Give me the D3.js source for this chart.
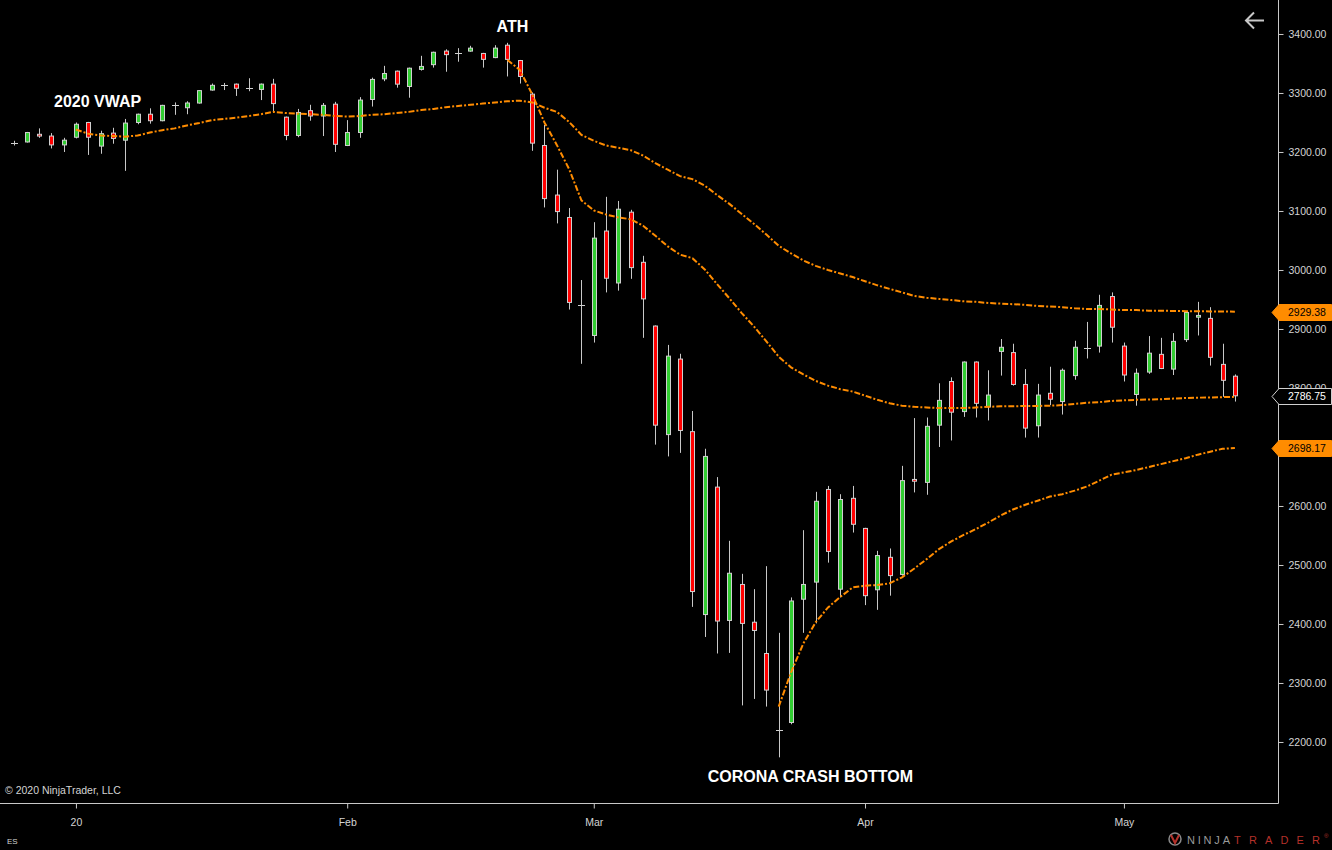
<!DOCTYPE html>
<html>
<head>
<meta charset="utf-8">
<script src="https://cdn.jsdelivr.net/npm/d3@7"></script>
<style>
  body { margin: 0; background: #000; }
  svg { display: block; font-family: 'Liberation Sans', Arial, sans-serif; }
  .axis text { fill: #d4d4d4; font-size: 10.5px; font-family: 'Liberation Sans', Arial, sans-serif; }
  .axis line { stroke: #c8c8c8; }
  .note { fill: #fff; font-weight: bold; font-size: 16px; }
</style>
</head>
<body>
<svg id="chart"></svg>
<script>
// Daily ES bars, late Dec 2019 to mid May 2020
const dates = [
  '2019-12-24','2019-12-26','2019-12-27','2019-12-30','2019-12-31',
  '2020-01-02','2020-01-03','2020-01-06','2020-01-07','2020-01-08','2020-01-09','2020-01-10',
  '2020-01-13','2020-01-14','2020-01-15','2020-01-16','2020-01-17','2020-01-20','2020-01-21',
  '2020-01-22','2020-01-23','2020-01-24','2020-01-27','2020-01-28','2020-01-29','2020-01-30','2020-01-31',
  '2020-02-03','2020-02-04','2020-02-05','2020-02-06','2020-02-07','2020-02-10','2020-02-11',
  '2020-02-12','2020-02-13','2020-02-14','2020-02-17','2020-02-18','2020-02-19','2020-02-20',
  '2020-02-21','2020-02-24','2020-02-25','2020-02-26','2020-02-27','2020-02-28',
  '2020-03-02','2020-03-03','2020-03-04','2020-03-05','2020-03-06','2020-03-09','2020-03-10',
  '2020-03-11','2020-03-12','2020-03-13','2020-03-16','2020-03-17','2020-03-18','2020-03-19',
  '2020-03-20','2020-03-23','2020-03-24','2020-03-25','2020-03-26','2020-03-27','2020-03-30','2020-03-31',
  '2020-04-01','2020-04-02','2020-04-03','2020-04-06','2020-04-07','2020-04-08','2020-04-09',
  '2020-04-13','2020-04-14','2020-04-15','2020-04-16','2020-04-17','2020-04-20','2020-04-21',
  '2020-04-22','2020-04-23','2020-04-24','2020-04-27','2020-04-28','2020-04-29','2020-04-30',
  '2020-05-01','2020-05-04','2020-05-05','2020-05-06','2020-05-07','2020-05-08','2020-05-11',
  '2020-05-12','2020-05-13','2020-05-14'
];

const opens = [
  3216,3217,3230,3227,3212,3225,3250,3210,3232,3220,
  3250,3264,3253,3279,3275,3283,3305,3313,3315,3309,
  3306,3315,3259,3228,3270,3261,3281,3211,3233,3289,
  3324,3337,3311,3340,3348,3371,3368,3371,3367,3360,
  3381,3355,3298,3211,3127,3089,2940,2889,3066,2978,
  3098,3013,2905,2721,2849,2726,2416,2632,2406,2467,
  2403,2350,2220,2233,2442,2471,2628,2459,2613,2562,
  2458,2513,2484,2645,2640,2737,2811,2760,2844,2768,
  2862,2860,2806,2736,2791,2777,2821,2867,2871,2955,
  2871,2789,2827,2857,2832,2882,2920,2918,2840,2820
];
const highs = [
  3219,3234,3240,3232,3224,3250,3251,3236,3241,3256,
  3265,3274,3280,3284,3286,3305,3316,3317,3316,3325,
  3316,3324,3260,3273,3280,3283,3285,3254,3293,3326,
  3346,3338,3343,3363,3370,3374,3376,3380,3368,3381,
  3385,3356,3301,3246,3170,3105,2983,3081,3124,3117,
  3102,3024,2906,2873,2858,2761,2697,2649,2541,2485,
  2459,2498,2385,2445,2559,2624,2634,2620,2634,2563,
  2524,2528,2668,2749,2750,2808,2818,2845,2845,2830,
  2883,2875,2832,2807,2836,2833,2880,2912,2958,2962,
  2877,2833,2888,2885,2893,2929,2946,2937,2875,2823
];
const lows = [
  3211,3216,3224,3206,3200,3223,3195,3197,3214,3168,
  3247,3248,3252,3263,3264,3282,3304,3305,3295,3303,
  3288,3268,3220,3225,3253,3227,3200,3210,3224,3277,
  3320,3309,3292,3338,3343,3336,3353,3370,3343,3359,
  3328,3316,3202,3106,3079,2933,2841,2877,2962,2965,
  2985,2885,2704,2684,2690,2429,2378,2350,2351,2262,
  2273,2260,2174,2230,2385,2401,2504,2445,2555,2432,
  2424,2448,2482,2623,2619,2700,2711,2751,2750,2745,
  2821,2804,2716,2716,2771,2755,2814,2850,2860,2877,
  2811,2770,2824,2832,2822,2878,2889,2838,2785,2777
];
const closes = [
  3216,3233,3227,3212,3220,3247,3225,3231,3223,3249,
  3264,3253,3279,3279,3283,3304,3313,3313,3308,3309,
  3315,3282,3228,3267,3261,3279,3213,3233,3288,3323,
  3333,3315,3342,3345,3369,3365,3368,3376,3357,3376,
  3357,3328,3215,3121,3099,2945,2940,3054,2986,3103,
  3004,2951,2737,2854,2728,2455,2684,2405,2486,2401,
  2389,2288,2220,2439,2467,2608,2523,2611,2569,2448,
  2516,2482,2643,2642,2735,2779,2759,2844,2774,2788,
  2869,2806,2732,2788,2781,2830,2869,2867,2940,2903,
  2822,2825,2859,2833,2879,2928,2923,2852,2813,2786.75
];

// Anchored VWAPs: 2020 (from Jan 2), all-time high, crash bottom
const vwap2020Start = '2020-01-02';
const vwap2020 = [
  3238,3231,3228,3227,3226,3228,3233,3237,3240,3245,
  3249,3254,3256,3258,3261,3264,3268,3266,3265,3264,
  3263,3261,3260,3261,3263,3264,3266,3268,3271,3273,
  3276,3278,3280,3282,3284,3286,3287,3284,3275,3268,
  3251,3229,3219,3211,3207,3203,3194,3181,3170,3159,
  3154,3143,3127,3112,3095,3078,3060,3041,3028,3016,
  3007,3000,2994,2988,2981,2974,2968,2962,2956,2953,
  2951,2949,2947,2946,2944,2943,2942,2941,2939,2938,
  2937,2935,2934,2934,2933,2932,2932,2931,2931,2930.5,
  2930.2,2930,2929.8,2929.6,2929.38
];
const vwapAthStart = '2020-02-20';
const vwapAth = [
  3356,3339,3298,3250,3212,3171,3118,3101,3094,3089,
  3086,3075,3058,3040,3026,3020,3001,2976,2952,2927,
  2904,2879,2853,2835,2823,2812,2804,2798,2794,2787,
  2780,2774,2770,2768,2767,2766,2766,2766,2767,2768,
  2769,2769,2769.5,2769.5,2770,2771,2773,2775,2776,2778,
  2779,2780,2780.5,2781,2782,2783,2783.6,2784,2784.5,2785
];
const vwapBottomStart = '2020-03-23';
const vwapBottom = [
  2260,2318,2367,2403,2428,2446,2462,2465,2466,2469,
  2479,2494,2510,2527,2540,2551,2561,2572,2584,2594,
  2602,2609,2616,2620,2626,2633,2643,2653,2657,2661,
  2666,2671,2676,2681,2687,2692,2697,2698.17
];

const yTicks = [2200, 2300, 2400, 2500, 2600, 2700, 2800, 2900, 3000, 3100, 3200, 3300, 3400];
const xTickDates = ['2020-01-02', '2020-02-03', '2020-03-02', '2020-04-01', '2020-05-01'];
const xTickLabels = ['20', 'Feb', 'Mar', 'Apr', 'May'];

const noteLabels = ['2020 VWAP', 'ATH', 'CORONA CRASH BOTTOM'];
const noteDates = ['2020-01-06', '2020-02-20', '2020-03-25'];
const notePrices = [3285, 3413, 2142];

class CandleChart {

  constructor(_config) {
    this.config = {
      parentElement: _config.parentElement,
      containerWidth: _config.containerWidth || 1332,
      containerHeight: _config.containerHeight || 850,
      plotRight: 1278,
      plotBottom: 803
    };
    this.bars = dates.map((d, i) => ({
      date: d, open: opens[i], high: highs[i], low: lows[i], close: closes[i]
    }));
    this.initVis();
  }

  initVis() {
    let vis = this;
    const c = vis.config;

    vis.svg = d3.select(c.parentElement)
        .attr('width', c.containerWidth)
        .attr('height', c.containerHeight);

    vis.svg.append('rect')
        .attr('width', c.containerWidth)
        .attr('height', c.containerHeight)
        .attr('fill', '#000');

    vis.xScale = d3.scalePoint()
        .domain(dates)
        .range([14.3, 1234.9]);

    vis.yScale = d3.scaleLinear()
        .domain([2096.6, 3457.6])
        .range([c.plotBottom, 0]);

    vis.yAxis = d3.axisRight(vis.yScale)
        .tickValues(yTicks)
        .tickSize(5)
        .tickPadding(5)
        .tickFormat(d3.format('.2f'));

    vis.xAxis = d3.axisBottom(vis.xScale)
        .tickValues(xTickDates)
        .tickSize(5)
        .tickPadding(10)
        .tickFormat((d, i) => xTickLabels[i]);

    vis.chart = vis.svg.append('g');
    vis.overlay = vis.svg.append('g');

    vis.renderVis();
  }

  renderVis() {
    let vis = this;
    const c = vis.config;
    const x = d => Math.round(vis.xScale(d));
    const y = v => vis.yScale(v);

    // wicks
    vis.chart.selectAll('.wick')
        .data(vis.bars)
      .join('line')
        .attr('class', 'wick')
        .attr('x1', d => x(d.date) + 0.5)
        .attr('x2', d => x(d.date) + 0.5)
        .attr('y1', d => y(d.high))
        .attr('y2', d => y(d.low))
        .attr('stroke', '#c8c8c8')
        .attr('stroke-width', 1);

    // bodies
    const bodies = vis.bars.filter(d => d.open !== d.close);
    vis.chart.selectAll('.body')
        .data(bodies)
      .join('rect')
        .attr('class', 'body')
        .attr('x', d => x(d.date) - 1.5)
        .attr('width', 4)
        .attr('y', d => y(Math.max(d.open, d.close)))
        .attr('height', d => Math.max(1, y(Math.min(d.open, d.close)) - y(Math.max(d.open, d.close))))
        .attr('fill', d => d.close > d.open ? '#32cd32' : '#ff0000')
        .attr('stroke', '#d0d0d0')
        .attr('stroke-width', 1);

    // doji bars
    vis.chart.selectAll('.doji')
        .data(vis.bars.filter(d => d.open === d.close))
      .join('line')
        .attr('class', 'doji')
        .attr('x1', d => x(d.date) - 3)
        .attr('x2', d => x(d.date) + 4)
        .attr('y1', d => Math.round(y(d.close)) + 0.5)
        .attr('y2', d => Math.round(y(d.close)) + 0.5)
        .attr('stroke', '#d0d0d0')
        .attr('stroke-width', 1);

    // VWAP lines
    const line = d3.line()
        .x(d => vis.xScale(d.date))
        .y(d => vis.yScale(d.value))
        .curve(d3.curveLinear);

    const series = [
      {start: vwap2020Start, values: vwap2020},
      {start: vwapAthStart, values: vwapAth},
      {start: vwapBottomStart, values: vwapBottom}
    ].map(s => {
      const i0 = dates.indexOf(s.start);
      return s.values.map((v, i) => ({date: dates[i0 + i], value: v}));
    });

    vis.chart.selectAll('.vwap')
        .data(series)
      .join('path')
        .attr('class', 'vwap')
        .attr('d', line)
        .attr('fill', 'none')
        .attr('stroke', '#ff8c00')
        .attr('stroke-width', 2)
        .attr('stroke-dasharray', '6,2,2,2');

    // frame
    vis.overlay.append('line')
        .attr('x1', 0).attr('x2', c.plotRight + 0.5)
        .attr('y1', c.plotBottom + 0.5).attr('y2', c.plotBottom + 0.5)
        .attr('stroke', '#c8c8c8');
    vis.overlay.append('line')
        .attr('x1', c.plotRight + 0.5).attr('x2', c.plotRight + 0.5)
        .attr('y1', 0).attr('y2', c.plotBottom + 0.5)
        .attr('stroke', '#c8c8c8');

    // axes
    vis.overlay.append('g')
        .attr('class', 'axis y-axis')
        .attr('transform', `translate(${c.plotRight + 0.5},0)`)
        .call(vis.yAxis)
        .call(g => g.select('.domain').remove());

    vis.overlay.append('g')
        .attr('class', 'axis x-axis')
        .attr('transform', `translate(0,${c.plotBottom + 0.5})`)
        .call(vis.xAxis)
        .call(g => g.select('.domain').remove());

    // price markers
    const marker = (v, fill, stroke, textFill) => {
      const yc = Math.round(y(v)) + 0.5;
      const g = vis.overlay.append('g');
      g.append('path')
          .attr('d', `M${c.plotRight - 6},${yc} L${c.plotRight + 1},${yc - 8} L1331.5,${yc - 8} L1331.5,${yc + 8} L${c.plotRight + 1},${yc + 8} Z`)
          .attr('fill', fill)
          .attr('stroke', stroke);
      g.append('text')
          .attr('x', c.plotRight + 10)
          .attr('y', yc)
          .attr('dy', '0.35em')
          .attr('fill', textFill)
          .attr('font-size', '10.5px')
          .text(d3.format('.2f')(v));
    };
    marker(vwap2020[vwap2020.length - 1], '#ff8c00', '#ff8c00', '#000');
    marker(vwapBottom[vwapBottom.length - 1], '#ff8c00', '#ff8c00', '#000');
    marker(closes[closes.length - 1], '#000', '#d0d0d0', '#fff');

    // annotations
    const noteDx = [-3, 5, 7];
    vis.overlay.selectAll('.note')
        .data(noteLabels)
      .join('text')
        .attr('class', 'note')
        .attr('x', (d, i) => vis.xScale(noteDates[i]) + noteDx[i])
        .attr('y', (d, i) => vis.yScale(notePrices[i]))
        .attr('dy', '0.35em')
        .attr('text-anchor', 'middle')
        .text(d => d);

    // copyright, instrument, back arrow, logo
    vis.overlay.append('text')
        .attr('x', 5).attr('y', 790).attr('dy', '0.35em')
        .attr('fill', '#d4d4d4').attr('font-size', '10.5px')
        .text('© 2020 NinjaTrader, LLC');

    vis.overlay.append('text')
        .attr('x', 7).attr('y', 841).attr('dy', '0.35em')
        .attr('fill', '#d4d4d4').attr('font-size', '8px')
        .text('ES');

    vis.overlay.append('path')
        .attr('d', 'M1246,20.5 H1264 M1254,12.5 L1246,20.5 L1254,28.5')
        .attr('fill', 'none')
        .attr('stroke', '#c8c8c8')
        .attr('stroke-width', 2);

    const logo = vis.overlay.append('g');
    logo.append('circle')
        .attr('cx', 1175).attr('cy', 839).attr('r', 6)
        .attr('fill', 'none').attr('stroke', '#8a8a8a').attr('stroke-width', 1.5);
    logo.append('path')
        .attr('d', 'M1171,835 L1175,843 L1179,835')
        .attr('fill', 'none').attr('stroke', '#b5312a').attr('stroke-width', 2);
    logo.append('text')
        .attr('x', 1187).attr('y', 844)
        .attr('fill', '#9a9a9a').attr('font-size', '11px')
        .attr('textLength', 43).attr('lengthAdjust', 'spacing')
        .text('NINJA');
    logo.append('text')
        .attr('x', 1234).attr('y', 844)
        .attr('fill', '#b5312a').attr('font-size', '11px')
        .attr('textLength', 86).attr('lengthAdjust', 'spacing')
        .text('TRADER');
    logo.append('text')
        .attr('x', 1324).attr('y', 838)
        .attr('fill', '#b5312a').attr('font-size', '6px')
        .text('®');
  }
}

new CandleChart({parentElement: '#chart'});
</script>
</body>
</html>
